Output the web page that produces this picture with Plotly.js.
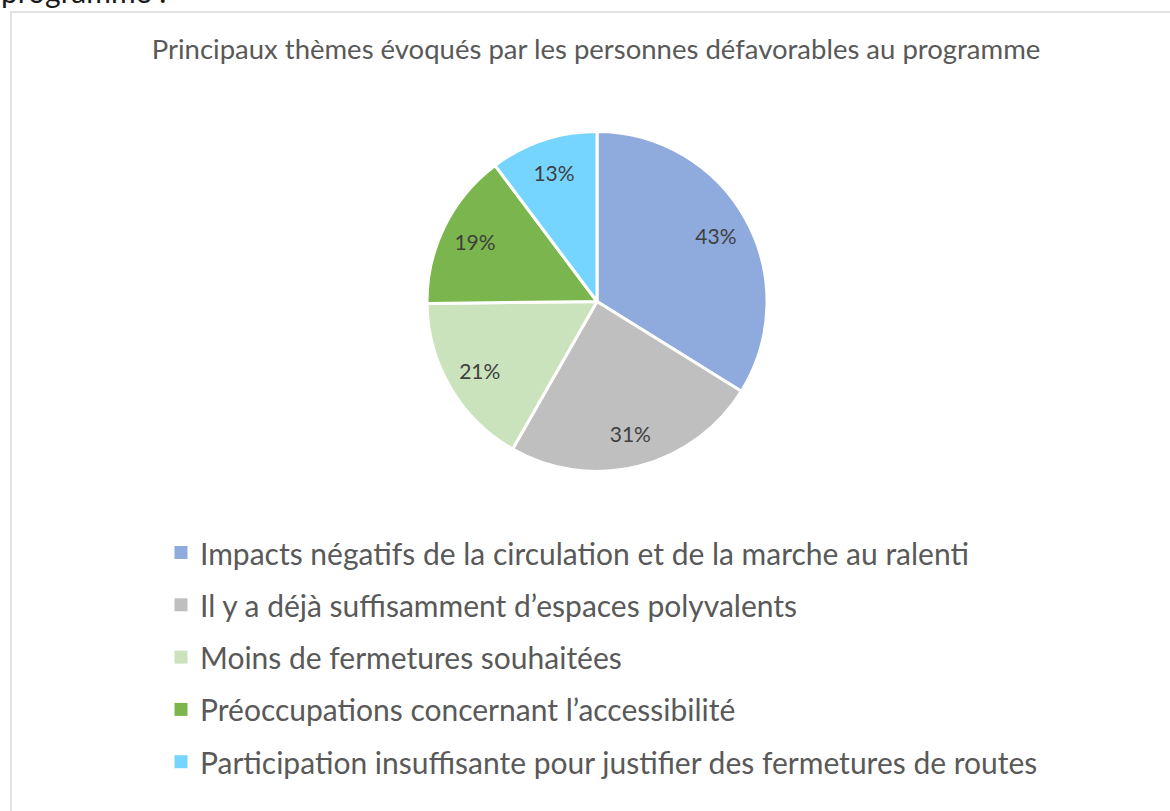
<!DOCTYPE html>
<html><head><meta charset="utf-8">
<script src="https://cdn.plot.ly/plotly-3.0.1.min.js"></script>
<style>html,body{margin:0;padding:0;background:#fff;}#chart{width:1170px;height:811px;}</style>
</head><body><div id="chart"></div>
<script>
const categories = [
  "Impacts négatifs de la circulation et de la marche au ralenti",
  "Il y a déjà suffisamment d’espaces polyvalents",
  "Moins de fermetures souhaitées",
  "Préoccupations concernant l’accessibilité",
  "Participation insuffisante pour justifier des fermetures de routes"
];
const values = [43, 31, 21, 19, 13];
const colors = ["#8FAADC", "#BFBFBF", "#CBE3BD", "#7AB64D", "#75D5FE"];
const chartTitle = "Principaux thèmes évoqués par les personnes défavorables au programme";
const pageText = "programme :";

const W = 1170, H = 811;
const px = x => x / W;
const py = y => 1 - y / H;

const FONT = "Lato, 'Open Sans', sans-serif";
const legendTop = 552.5, legendStep = 52.3;

const annotations = [];
const shapes = [
  {type: "rect", xref: "paper", yref: "paper", x0: px(11), x1: px(1200), y0: py(12), y1: py(900),
   line: {color: "#D9D9D9", width: 1.5}, fillcolor: "rgba(0,0,0,0)", layer: "below"}
];
categories.forEach((c, i) => {
  const yc = legendTop + i * legendStep;
  shapes.push({type: "rect", xref: "paper", yref: "paper",
    x0: px(174.5), x1: px(187.5), y0: py(yc + 6.5), y1: py(yc - 6.5),
    line: {width: 0}, fillcolor: colors[i]});
  annotations.push({xref: "paper", yref: "paper", x: px(197.5), y: py(yc), xanchor: "left", yanchor: "middle",
    text: c, showarrow: false, font: {family: FONT, size: 30, color: "#595959"}});
});
annotations.push({xref: "paper", yref: "paper", x: px(-1), y: py(-9), xanchor: "left", yanchor: "middle",
  text: pageText, showarrow: false, font: {family: FONT, size: 30, color: "#1a1a1a"}});

const pieDomain = {x: [px(427), px(767)], y: [py(472), py(131)]};
const data = [{
  type: "pie",
  labels: categories,
  values: values,
  sort: false,
  direction: "clockwise",
  rotation: 0,
  marker: {colors: colors, line: {color: "#FFFFFF", width: 3}},
  textinfo: "none",
  hoverinfo: "label+value",
  showlegend: false,
  domain: pieDomain
}, {
  type: "pie",
  labels: categories,
  values: values,
  sort: false,
  direction: "clockwise",
  rotation: 0,
  hole: 0.6,
  marker: {colors: colors.map(() => "rgba(0,0,0,0)"), line: {width: 0}},
  texttemplate: "%{value}%",
  textposition: "inside",
  insidetextorientation: "horizontal",
  textfont: {family: FONT, size: 21, color: "#404040"},
  hoverinfo: "skip",
  showlegend: false,
  domain: pieDomain
}];

const layout = {
  width: W, height: H,
  margin: {l: 0, r: 0, t: 0, b: 0},
  paper_bgcolor: "#FFFFFF",
  title: {text: chartTitle, x: px(596), xanchor: "center", y: py(49), yanchor: "middle",
          font: {family: FONT, size: 27.5, color: "#595959"}},
  showlegend: false,
  shapes: shapes,
  annotations: annotations
};

Plotly.newPlot("chart", data, layout, {displayModeBar: false, staticPlot: true});
</script></body></html>
